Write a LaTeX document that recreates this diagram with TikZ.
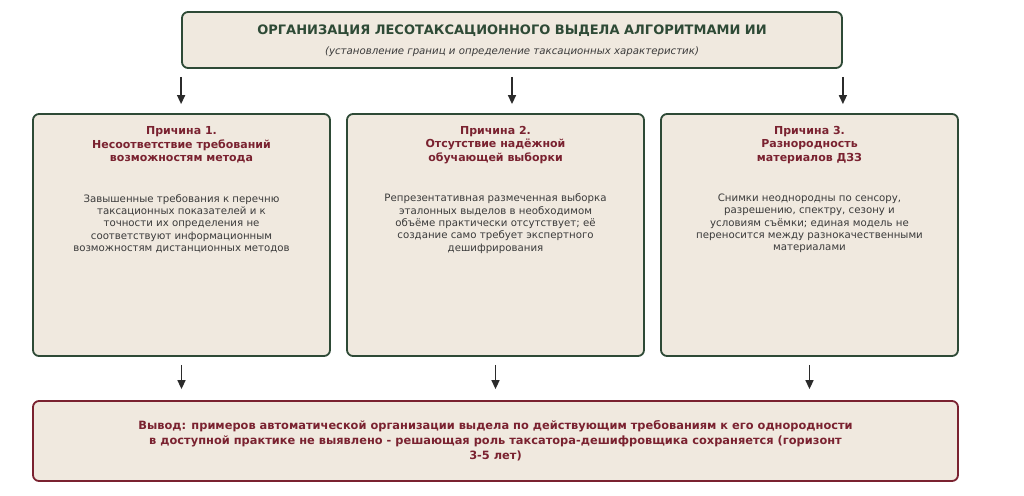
\documentclass[tikz,border=0pt]{standalone}
\usepackage{fontspec}
\setmainfont{DejaVu Sans}
\usetikzlibrary{arrows.meta}
\definecolor{beige}{HTML}{F0E9DF}
\definecolor{dgreen}{HTML}{2E4A36}
\definecolor{dred}{HTML}{7A2230}
\definecolor{bodytxt}{HTML}{3A3A3A}
\definecolor{arrcol}{HTML}{2B2B2B}
\tikzset{
  box/.style={draw=dgreen, fill=beige, line width=1.8pt, rounded corners=6pt, inner sep=0pt},
  redbox/.style={draw=dred, fill=beige, line width=1.8pt, rounded corners=6pt, inner sep=0pt},
  ctitle/.style={text=dred, font=\fontsize{11}{13.5}\selectfont\bfseries, align=center, inner sep=0pt},
  cbody/.style={text=bodytxt, font=\fontsize{10.2}{12.3}\selectfont, align=center, inner sep=0pt},
  arr/.style={draw=arrcol, line width=1.5pt, -{Triangle[length=9pt,width=8pt]}}
}
\begin{document}
\begin{tikzpicture}[x=1pt,y=-1pt]
\useasboundingbox (0,0) rectangle (1024,495);
% top box
\node[box, minimum width=660pt, minimum height=56pt] (top) at (512,40) {};
\node[text=dgreen, font=\fontsize{13}{15}\selectfont\bfseries, inner sep=0pt] (toptitle) at (512,31) {ОРГАНИЗАЦИЯ ЛЕСОТАКСАЦИОННОГО ВЫДЕЛА АЛГОРИТМАМИ ИИ};
\node[text=bodytxt, font=\fontsize{10.2}{12}\selectfont\itshape, inner sep=0pt] (topsub) at (512,52) {(установление границ и определение таксационных характеристик)};
% cause boxes
\node[box, minimum width=297pt, minimum height=242pt] (c1) at (181.5,235) {};
\node[box, minimum width=297pt, minimum height=242pt] (c2) at (495.5,235) {};
\node[box, minimum width=297pt, minimum height=242pt] (c3) at (809.5,235) {};
\node[ctitle] (t1) at (181.5,145) {Причина 1.\\Несоответствие требований\\возможностям метода};
\node[ctitle] (t2) at (495.5,145) {Причина 2.\\Отсутствие надёжной\\обучающей выборки};
\node[ctitle] (t3) at (809.5,145) {Причина 3.\\Разнородность\\материалов ДЗЗ};
\node[cbody] (b1) at (181.5,223.5) {Завышенные требования к перечню\\таксационных показателей и к\\точности их определения не\\соответствуют информационным\\возможностям дистанционных методов};
\node[cbody] (b2) at (495.5,223.5) {Репрезентативная размеченная выборка\\эталонных выделов в необходимом\\объёме практически отсутствует; её\\создание само требует экспертного\\дешифрирования};
\node[cbody] (b3) at (809.5,223.5) {Снимки неоднородны по сенсору,\\разрешению, спектру, сезону и\\условиям съёмки; единая модель не\\переносится между разнокачественными\\материалами};
% bottom box
\node[redbox, minimum width=925pt, minimum height=80pt] (bot) at (495.5,441) {};
\node[text=dred, font=\fontsize{11.4}{15}\selectfont\bfseries, align=center, inner sep=0pt] (bottxt) at (495.5,441) {Вывод: примеров автоматической организации выдела по действующим требованиям к его однородности\\в доступной практике не выявлено - решающая роль таксатора-дешифровщика сохраняется (горизонт\\3-5 лет)};
% arrows
\draw[arr, shorten <=8pt, shorten >=9pt] (top.south west) -- (top.south west |- c1.north);
\draw[arr, shorten <=8pt, shorten >=9pt] (top.south) -- (top.south |- c2.north);
\draw[arr, shorten <=8pt, shorten >=9pt] (top.south east) -- (top.south east |- c3.north);
\draw[arr, shorten <=8pt, shorten >=11pt] (c1.south) -- (c1.south |- bot.north);
\draw[arr, shorten <=8pt, shorten >=11pt] (c2.south) -- (c2.south |- bot.north);
\draw[arr, shorten <=8pt, shorten >=11pt] (c3.south) -- (c3.south |- bot.north);
\end{tikzpicture}
\end{document}
